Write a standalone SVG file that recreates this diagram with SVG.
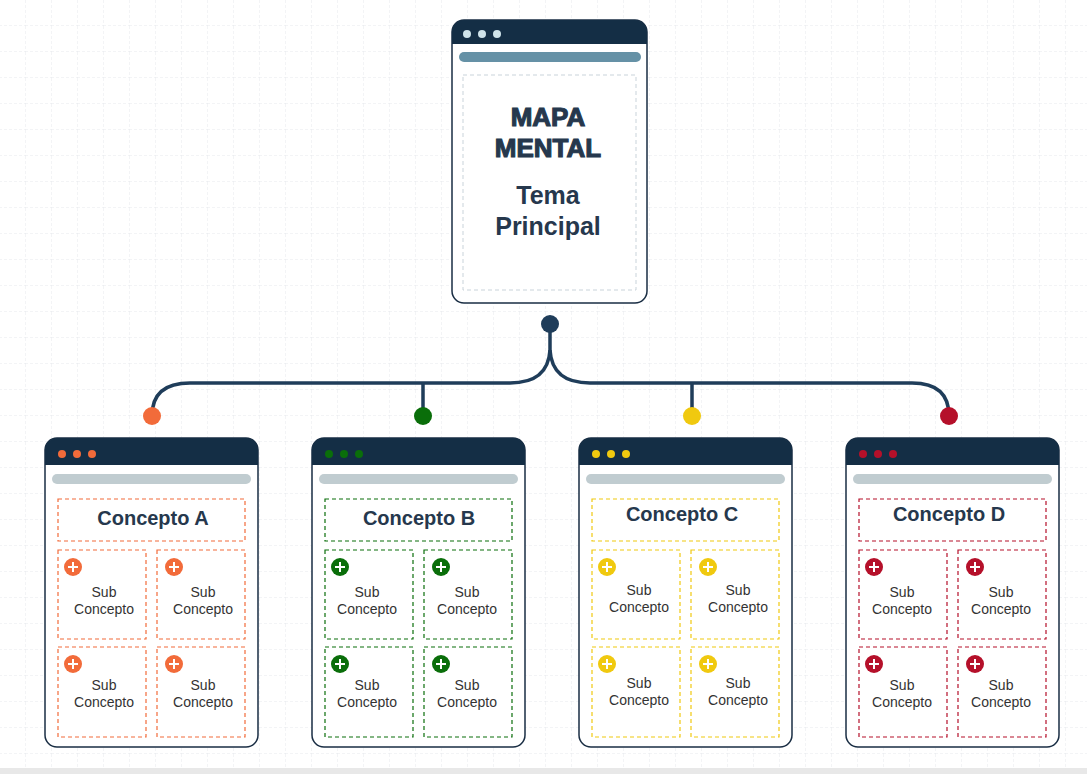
<svg xmlns="http://www.w3.org/2000/svg" width="1087" height="774" viewBox="0 0 1087 774">
<defs>
<pattern id="grid" width="26" height="26" patternUnits="userSpaceOnUse"><path d="M26 0V26H0" fill="none" stroke="#e6e9ec" stroke-width="1" stroke-dasharray="3 2"/></pattern>
<g id="plus"><circle r="9"/><path d="M-5 0H5M0-5V5" stroke="#fff" stroke-width="2"/></g>
</defs>
<style>
.card{fill:#fff;stroke:#1a2e44;stroke-width:1.5}
.hdr{fill:#142e45}
.t{font-family:"Liberation Sans",Arial,sans-serif;fill:#26384d;text-anchor:middle}
.big{stroke:#26384d;stroke-width:1.1}
.sub{font-size:14px;fill:#333}
.ttl{font-size:20px;font-weight:bold}
.conn{fill:none;stroke:#1f3d5a;stroke-width:3.5}
.dash{fill:none;stroke-dasharray:4 3;stroke-width:1.2}
</style>
<rect width="1087" height="774" fill="#fff"/>
<rect width="1087" height="774" fill="url(#grid)"/>
<rect x="0" y="768" width="1087" height="6" fill="#e8e8e8"/>
<g id="main">
<rect class="card" x="452" y="20" width="195" height="283" rx="12"/>
<path class="hdr" d="M464 20H635A12 12 0 0 1 647 32V44H452V32A12 12 0 0 1 464 20Z"/>
<circle cx="467" cy="34" r="4" fill="#cfe3ea"/><circle cx="482" cy="34" r="4" fill="#cfe3ea"/><circle cx="497" cy="34" r="4" fill="#cfe3ea"/>
<rect x="459" y="52" width="182" height="10" rx="5" fill="#6591a6"/>
<rect x="463" y="75" width="173" height="215" fill="none" stroke="#c9d3da" stroke-dasharray="4 3"/>
<text class="t big" x="548" y="126" font-size="26" font-weight="bold">MAPA</text>
<text class="t big" x="548" y="157" font-size="26" font-weight="bold">MENTAL</text>
<text class="t" x="548" y="204" font-size="25" font-weight="bold">Tema</text>
<text class="t" x="548" y="235" font-size="25" font-weight="bold">Principal</text>
</g>
<g id="connectors">
<path class="conn" d="M550 324V350Q548 383 510 383H190Q152 383 152 416"/>
<path class="conn" d="M550 350Q552 383 590 383H912Q949 383 949 416"/>
<path class="conn" d="M423 383V416M692 383V416"/>
<circle cx="550" cy="324" r="9" fill="#1f3d5a"/>
<circle cx="152" cy="416" r="9" fill="#f26b3a"/>
<circle cx="423" cy="416" r="9" fill="#0a6e0a"/>
<circle cx="692" cy="416" r="9" fill="#f0c90f"/>
<circle cx="949" cy="416" r="9" fill="#b5102a"/>
</g>
<g id="conceptA" transform="translate(45,0)" fill="#f26b3a" stroke="#f26b3a">
<rect class="card" x="0" y="438" width="213" height="309" rx="12"/>
<path class="hdr" stroke="none" d="M12 438H201A12 12 0 0 1 213 450V465H0V450A12 12 0 0 1 12 438Z"/>
<g stroke="none"><circle cx="17" cy="454" r="4"/><circle cx="32" cy="454" r="4"/><circle cx="47" cy="454" r="4"/></g>
<rect x="7" y="474" width="199" height="10" rx="5" fill="#c0ccd0" stroke="none"/>
<g class="dash"><rect x="13" y="499" width="187" height="42"/><rect x="13" y="550" width="88" height="89"/><rect x="112" y="550" width="88" height="89"/><rect x="13" y="647" width="88" height="90"/><rect x="112" y="647" width="88" height="90"/></g>
<g stroke="none"><use href="#plus" x="28" y="567"/><use href="#plus" x="129" y="567"/><use href="#plus" x="28" y="664"/><use href="#plus" x="129" y="664"/></g>
<g stroke="none"><text class="t ttl" x="108" y="525">Concepto A</text>
<text class="t sub" x="59" y="597">Sub</text><text class="t sub" x="59" y="614">Concepto</text>
<text class="t sub" x="158" y="597">Sub</text><text class="t sub" x="158" y="614">Concepto</text>
<text class="t sub" x="59" y="690">Sub</text><text class="t sub" x="59" y="707">Concepto</text>
<text class="t sub" x="158" y="690">Sub</text><text class="t sub" x="158" y="707">Concepto</text></g>
</g>
<g id="conceptB" transform="translate(312,0)" fill="#0a6e0a" stroke="#0a6e0a">
<rect class="card" x="0" y="438" width="213" height="309" rx="12"/>
<path class="hdr" stroke="none" d="M12 438H201A12 12 0 0 1 213 450V465H0V450A12 12 0 0 1 12 438Z"/>
<g stroke="none"><circle cx="17" cy="454" r="4"/><circle cx="32" cy="454" r="4"/><circle cx="47" cy="454" r="4"/></g>
<rect x="7" y="474" width="199" height="10" rx="5" fill="#c0ccd0" stroke="none"/>
<g class="dash"><rect x="13" y="499" width="187" height="42"/><rect x="13" y="550" width="88" height="89"/><rect x="112" y="550" width="88" height="89"/><rect x="13" y="647" width="88" height="90"/><rect x="112" y="647" width="88" height="90"/></g>
<g stroke="none"><use href="#plus" x="28" y="567"/><use href="#plus" x="129" y="567"/><use href="#plus" x="28" y="664"/><use href="#plus" x="129" y="664"/></g>
<g stroke="none"><text class="t ttl" x="107" y="525">Concepto B</text>
<text class="t sub" x="55" y="597">Sub</text><text class="t sub" x="55" y="614">Concepto</text>
<text class="t sub" x="155" y="597">Sub</text><text class="t sub" x="155" y="614">Concepto</text>
<text class="t sub" x="55" y="690">Sub</text><text class="t sub" x="55" y="707">Concepto</text>
<text class="t sub" x="155" y="690">Sub</text><text class="t sub" x="155" y="707">Concepto</text></g>
</g>
<g id="conceptC" transform="translate(579,0)" fill="#f0c90f" stroke="#f0c90f">
<rect class="card" x="0" y="438" width="213" height="309" rx="12"/>
<path class="hdr" stroke="none" d="M12 438H201A12 12 0 0 1 213 450V465H0V450A12 12 0 0 1 12 438Z"/>
<g stroke="none"><circle cx="17" cy="454" r="4"/><circle cx="32" cy="454" r="4"/><circle cx="47" cy="454" r="4"/></g>
<rect x="7" y="474" width="199" height="10" rx="5" fill="#c0ccd0" stroke="none"/>
<g class="dash"><rect x="13" y="499" width="187" height="42"/><rect x="13" y="550" width="88" height="89"/><rect x="112" y="550" width="88" height="89"/><rect x="13" y="647" width="88" height="90"/><rect x="112" y="647" width="88" height="90"/></g>
<g stroke="none"><use href="#plus" x="28" y="567"/><use href="#plus" x="129" y="567"/><use href="#plus" x="28" y="664"/><use href="#plus" x="129" y="664"/></g>
<g stroke="none"><text class="t ttl" x="103" y="521">Concepto C</text>
<text class="t sub" x="60" y="595">Sub</text><text class="t sub" x="60" y="612">Concepto</text>
<text class="t sub" x="159" y="595">Sub</text><text class="t sub" x="159" y="612">Concepto</text>
<text class="t sub" x="60" y="688">Sub</text><text class="t sub" x="60" y="705">Concepto</text>
<text class="t sub" x="159" y="688">Sub</text><text class="t sub" x="159" y="705">Concepto</text></g>
</g>
<g id="conceptD" transform="translate(846,0)" fill="#b5102a" stroke="#b5102a">
<rect class="card" x="0" y="438" width="213" height="309" rx="12"/>
<path class="hdr" stroke="none" d="M12 438H201A12 12 0 0 1 213 450V465H0V450A12 12 0 0 1 12 438Z"/>
<g stroke="none"><circle cx="17" cy="454" r="4"/><circle cx="32" cy="454" r="4"/><circle cx="47" cy="454" r="4"/></g>
<rect x="7" y="474" width="199" height="10" rx="5" fill="#c0ccd0" stroke="none"/>
<g class="dash"><rect x="13" y="499" width="187" height="42"/><rect x="13" y="550" width="88" height="89"/><rect x="112" y="550" width="88" height="89"/><rect x="13" y="647" width="88" height="90"/><rect x="112" y="647" width="88" height="90"/></g>
<g stroke="none"><use href="#plus" x="28" y="567"/><use href="#plus" x="129" y="567"/><use href="#plus" x="28" y="664"/><use href="#plus" x="129" y="664"/></g>
<g stroke="none"><text class="t ttl" x="103" y="521">Concepto D</text>
<text class="t sub" x="56" y="597">Sub</text><text class="t sub" x="56" y="614">Concepto</text>
<text class="t sub" x="155" y="597">Sub</text><text class="t sub" x="155" y="614">Concepto</text>
<text class="t sub" x="56" y="690">Sub</text><text class="t sub" x="56" y="707">Concepto</text>
<text class="t sub" x="155" y="690">Sub</text><text class="t sub" x="155" y="707">Concepto</text></g>
</g>
</svg>
